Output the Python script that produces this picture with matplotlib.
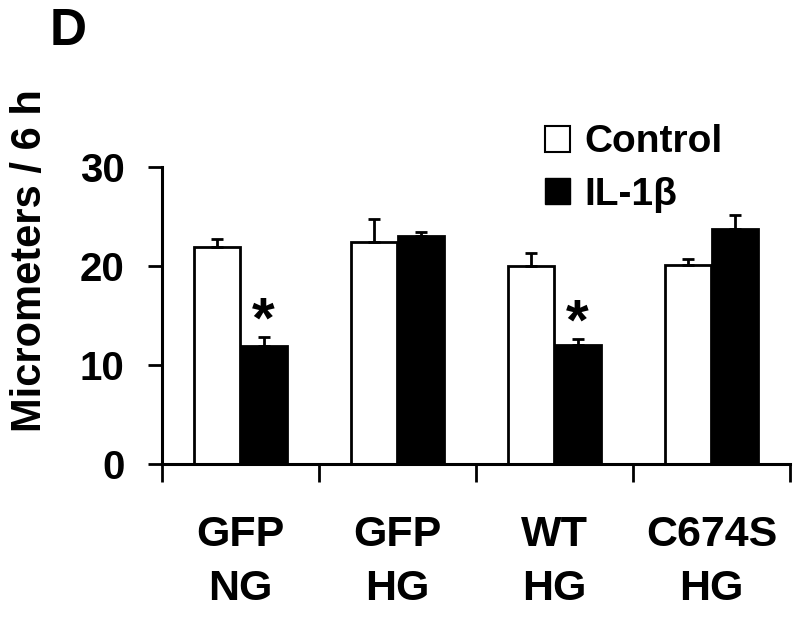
import numpy as np
import matplotlib
matplotlib.use("Agg")
import matplotlib.pyplot as plt
from matplotlib.patches import Patch

# values (micrometers / 6 h)
groups = ["GFP\nNG", "GFP\nHG", "WT\nHG", "C674S\nHG"]
control = [21.9, 22.4, 20.0, 20.1]
control_err = [0.8, 2.4, 1.3, 0.6]
il1b = [11.9, 23.0, 12.0, 23.8]
il1b_err = [0.9, 0.4, 0.6, 1.4]
signif = [True, False, True, False]

plt.rcParams['font.family'] = ['Liberation Sans', 'DejaVu Sans']
plt.rcParams['font.weight'] = 'bold'

fig = plt.figure(figsize=(8, 6.21), dpi=100)
ax = fig.add_axes([0.2025, 0.2528, 0.785, 0.478])

x = np.arange(len(groups)) + 0.5
w = 0.293
off = 0.147

err_kw = dict(elinewidth=2, capsize=4, capthick=2, ecolor='black')
ax.bar(x - off, control, w, color='white', edgecolor='black', linewidth=2,
       yerr=[np.zeros(4), control_err], error_kw=err_kw, zorder=2)
ax.bar(x + off, il1b, w, color='black', edgecolor='black', linewidth=2,
       yerr=[np.zeros(4), il1b_err], error_kw=err_kw, zorder=2)

for xi, v, e, s in zip(x, il1b, il1b_err, signif):
    if s:
        ax.text(xi + off, v + e + 1.5, "*", ha='center', va='center',
                fontsize=42, fontweight='bold')

ax.set_xlim(0, 4)
ax.set_ylim(0, 30)
ax.set_yticks([0, 10, 20, 30])
ax.set_xticks([0, 1, 2, 3, 4])
ax.set_xticklabels([])
ax.set_xticks(x, minor=True)
ax.set_xticklabels(groups, minor=True, fontsize=31, fontweight='bold',
                   linespacing=1.45)
ax.tick_params(axis='x', which='minor', length=0, pad=37)
ax.tick_params(axis='x', which='major', length=13, width=2, direction='out')
ax.tick_params(axis='y', length=10, width=2, pad=17, labelsize=29)
for t in ax.get_yticklabels():
    t.set_fontweight('bold')

for side in ['top', 'right']:
    ax.spines[side].set_visible(False)
for side in ['left', 'bottom']:
    ax.spines[side].set_linewidth(2.2)

fig.text(0.0375, 0.58, "Micrometers / 6 h", rotation=90, ha='center',
         va='center', fontsize=30, fontweight='bold')
fig.text(0.0625, 0.95, "D", ha='left', va='center', fontsize=37,
         fontweight='bold')

handles = [Patch(facecolor='white', edgecolor='black', linewidth=1.5),
           Patch(facecolor='black', edgecolor='black')]
fig.legend(handles, ["Control", "IL-1β"], loc='upper left',
           bbox_to_anchor=(0.681, 0.80), frameon=False,
           handlelength=0.65, handleheight=0.65, handletextpad=0.38,
           labelspacing=0.42, borderpad=0, borderaxespad=0,
           prop={'weight': 'bold', 'size': 28})

fig.savefig("out.png", dpi=100)
